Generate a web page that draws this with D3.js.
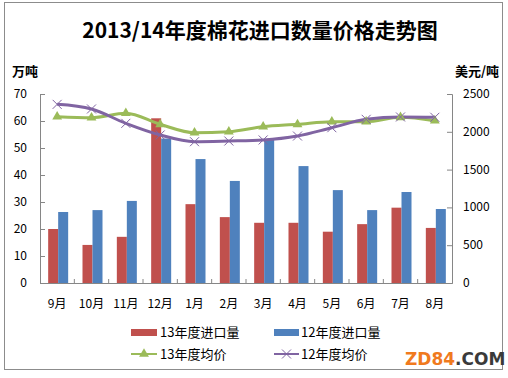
<!DOCTYPE html>
<html><head><meta charset="utf-8">
<script src="https://cdn.jsdelivr.net/npm/d3@7/dist/d3.min.js"></script>
<style>
html,body{margin:0;padding:0;background:#fff;}
svg{display:block;font-family:"Noto Sans CJK SC","Noto Sans",sans-serif;}
</style></head><body>
<svg id="c" width="508" height="378"></svg>
<script>
const months = ["9月","10月","11月","12月","1月","2月","3月","4月","5月","6月","7月","8月"];
const import13 = [20, 14.1, 17.1, 61, 29.2, 24.4, 22.3, 22.3, 19, 21.8, 27.9, 20.4];
const import12 = [26.3, 27, 30.4, 53.5, 45.9, 37.8, 53, 43.3, 34.4, 27, 33.7, 27.4];
const price13 = [2200, 2187, 2245, 2099, 1988, 2001, 2068, 2099, 2134, 2134, 2192, 2147];
const price12 = [2363, 2302, 2112, 1958, 1869, 1878, 1892, 1944, 2054, 2165, 2196, 2192];
const leftTicks = [0,10,20,30,40,50,60,70];
const rightTicks = [0,500,1000,1500,2000,2500];

const svg = d3.select("#c");
const C = {red:"#C0504D", blue:"#4F81BD", green:"#9BBB59", purple:"#8064A2"};
svg.append("rect").attr("x",4.5).attr("y",2.5).attr("width",498).attr("height",367)
  .attr("fill","#fff").attr("stroke","#8c8c8c").attr("stroke-width",1);

const L = 40, R = 452, T = 94, B = 283;
const x = d3.scaleBand().domain(months).range([L,R]).paddingInner(0).paddingOuter(0);
const yL = d3.scaleLinear().domain([0,70]).range([B,T]);
const yR = d3.scaleLinear().domain([0,2500]).range([B,T]);
const bw = 10;

svg.append("text").attr("x",260).attr("y",38).attr("text-anchor","middle")
  .attr("font-size",21).attr("font-weight","bold").attr("fill","#000").text("2013/14年度棉花进口数量价格走势图");
svg.append("text").attr("x",12).attr("y",76).attr("font-size",13).attr("font-weight","bold").text("万吨");
svg.append("text").attr("x",499).attr("y",76).attr("text-anchor","end").attr("font-size",13).attr("font-weight","bold").text("美元/吨");

// bars
svg.append("g").selectAll("rect").data(months).join("rect")
  .attr("x",d=>x(d)+x.bandwidth()/2-bw+1).attr("width",bw)
  .attr("y",(d,i)=>yL(import13[i])).attr("height",(d,i)=>B-yL(import13[i])).attr("fill",C.red);
svg.append("g").selectAll("rect").data(months).join("rect")
  .attr("x",d=>x(d)+x.bandwidth()/2+1).attr("width",bw)
  .attr("y",(d,i)=>yL(import12[i])).attr("height",(d,i)=>B-yL(import12[i])).attr("fill",C.blue);

// axes
const axL = svg.append("g").attr("transform",`translate(${L},0)`)
  .call(d3.axisRight(yL).tickValues(leftTicks).tickSize(5).tickFormat(d3.format("d")));
axL.selectAll("text").remove();
svg.append("g").selectAll("text").data(leftTicks).join("text")
  .attr("x",27).attr("y",d=>yL(d)+4).attr("text-anchor","end").attr("font-size",12).attr("fill","#000").text(d=>d);
const axR = svg.append("g").attr("transform",`translate(${R},0)`)
  .call(d3.axisLeft(yR).tickValues(rightTicks).tickSize(5));
axR.selectAll("text").remove();
svg.append("g").selectAll("text").data(rightTicks).join("text")
  .attr("x",463).attr("y",d=>yR(d)+4).attr("text-anchor","start").attr("font-size",12).attr("fill","#000").text(d=>d);
const axB = svg.append("g").attr("transform",`translate(0,${B})`)
  .call(d3.axisBottom(x).tickSize(0));
axB.selectAll("text").remove();
svg.append("g").selectAll("line").data(months.slice(1)).join("line")
  .attr("x1",d=>x(d)).attr("x2",d=>x(d)).attr("y1",B).attr("y2",B-4).attr("stroke","#868686");
svg.append("g").selectAll("text").data(months).join("text")
  .attr("x",d=>x(d)+x.bandwidth()/2).attr("y",308).attr("text-anchor","middle").attr("font-size",12).attr("fill","#000").text(d=>d);
svg.selectAll(".domain, .tick line").attr("stroke","#868686");

// lines
const cx = d=>x(d)+x.bandwidth()/2;
const line = arr => d3.line().x((d,i)=>cx(months[i])).y(d=>yR(d)).curve(d3.curveMonotoneX)(arr);
svg.append("path").attr("d",line(price13)).attr("fill","none").attr("stroke",C.green).attr("stroke-width",3);
svg.append("path").attr("d",line(price12)).attr("fill","none").attr("stroke",C.purple).attr("stroke-width",3);
const tri = d3.symbol().type(d3.symbolTriangle).size(42);
svg.append("g").selectAll("path").data(price13).join("path")
  .attr("transform",(d,i)=>`translate(${cx(months[i])},${yR(d)})`).attr("d",tri()).attr("fill",C.green);
svg.append("g").selectAll("path").data(price12).join("path")
  .attr("transform",(d,i)=>`translate(${cx(months[i])},${yR(d)})`)
  .attr("d","M-4.5,-4.5L4.5,4.5M-4.5,4.5L4.5,-4.5").attr("stroke",C.purple).attr("stroke-width",1).attr("fill","none");

// legend
const lg = svg.append("g").attr("font-size",13).attr("fill","#000");
lg.append("rect").attr("x",131).attr("y",329).attr("width",26).attr("height",7).attr("fill",C.red);
lg.append("text").attr("x",160).attr("y",337).text("13年度进口量");
lg.append("rect").attr("x",274).attr("y",329).attr("width",25).attr("height",7).attr("fill",C.blue);
lg.append("text").attr("x",301).attr("y",337).text("12年度进口量");
lg.append("line").attr("x1",131).attr("x2",157).attr("y1",354).attr("y2",354).attr("stroke",C.green).attr("stroke-width",2);
lg.append("path").attr("transform","translate(144,354)").attr("d",tri()).attr("fill",C.green);
lg.append("text").attr("x",160).attr("y",359).text("13年度均价");
lg.append("line").attr("x1",274).attr("x2",299).attr("y1",354).attr("y2",354).attr("stroke",C.purple).attr("stroke-width",2);
lg.append("path").attr("transform","translate(286.5,354)").attr("d","M-4.5,-4.5L4.5,4.5M-4.5,4.5L4.5,-4.5").attr("stroke",C.purple).attr("fill","none");
lg.append("text").attr("x",301).attr("y",359).text("12年度均价");

// watermark
const wm = svg.append("text").attr("x",405).attr("y",365).attr("font-size",17).attr("font-weight","bold").attr("font-family","'DejaVu Sans',Verdana,sans-serif");
wm.append("tspan").attr("fill","#f07a1e").text("ZD84");
wm.append("tspan").attr("fill","#3a3a3a").text(".COM");
</script>
</body></html>
